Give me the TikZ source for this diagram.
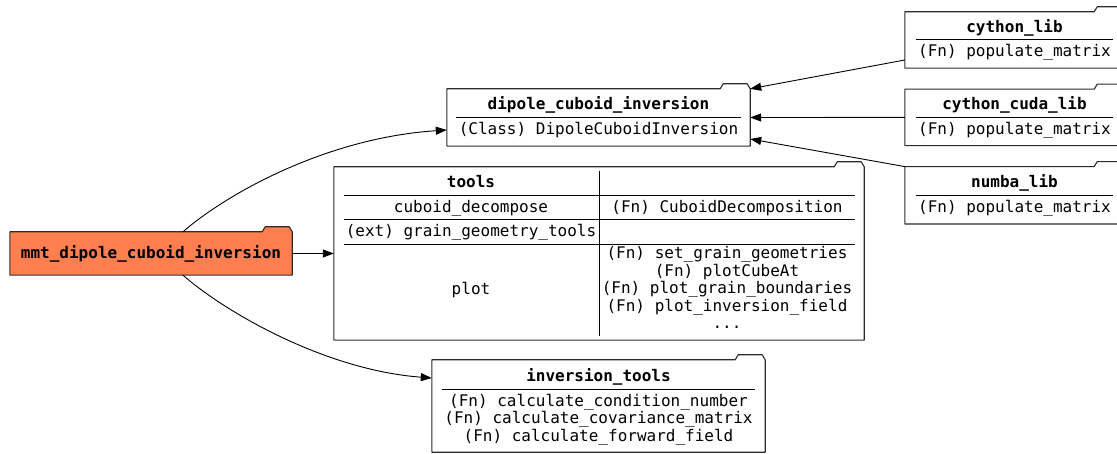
\documentclass[tikz,border=0pt]{standalone}
\usepackage{fontspec}
\setmonofont{DejaVu Sans Mono}
\usepackage{array}
\usetikzlibrary{arrows.meta, positioning}

\definecolor{coral}{HTML}{FF7F50}
\definecolor{linegray}{HTML}{2B2B2B}

\renewcommand{\arraystretch}{1.36}
\setlength{\tabcolsep}{2.5pt}
\setlength{\arrayrulewidth}{1pt}

% several lines in one cell
\newcommand{\lines}[2][t]{{\renewcommand{\arraystretch}{1}\begin{tabular}[#1]{@{}c@{}}#2\end{tabular}}}

% folder outline with the tab on the top right
\newcommand{\folder}[2]{%
  \fill[#2] ([xshift=-30pt]#1.north east) -- ++(3,-5) -- ++(24,0) -- (#1.north east) -- cycle;
  \draw[linegray, line width=1.1pt, line join=round] (#1.south west) -- (#1.south east) -- (#1.north east)
    -- ++(-3,-5) -- ++(-24,0) -- ++(-3,5) -- (#1.north west) -- cycle;
}

\begin{document}
\begin{tikzpicture}[x=1pt, y=-1pt, node distance=21pt, >={Triangle[length=11pt,width=8pt]},
    pkg/.style={rectangle, inner sep=0pt, fill=white, font=\ttfamily\fontsize{16}{17.3}\selectfont},
    edge/.style={->, line width=0.9pt, black}]
        \useasboundingbox (0,0) rectangle (1117,454);

        % Draw the blocks
        \node (mmt)    [pkg, fill=coral, minimum width=282pt, minimum height=43pt] at (151,253.5) {\textbf{mmt\_dipole\_cuboid\_inversion}};
        \node (dipole) [pkg, minimum width=303pt, minimum height=57pt] at (598.5,117.5)
            {\begin{tabular}{c}\textbf{dipole\_cuboid\_inversion}\\ \hline (Class) DipoleCuboidInversion\end{tabular}};
        \node (tools)  [pkg, minimum width=530pt, minimum height=173pt] at (599,253.5)
            {\begin{tabular}{wc{250pt}|wc{250pt}}
                \textbf{tools} & \\ \hline
                cuboid\_decompose & (Fn) CuboidDecomposition \\ \hline
                (ext) grain\_geometry\_tools & \\ \hline
                plot & \lines[c]{\rule{0pt}{14pt}(Fn) set\_grain\_geometries\\ (Fn) plotCubeAt\\ (Fn) plot\_grain\_boundaries\\
                       (Fn) plot\_inversion\_field\\ ...\rule[-7pt]{0pt}{0pt}}
             \end{tabular}};
        \node (inv)    [pkg, minimum width=333pt, minimum height=92pt] at (598.5,406)
            {\begin{tabular}{c}\textbf{inversion\_tools}\\ \hline
                \lines{(Fn) calculate\_condition\_number\\ (Fn) calculate\_covariance\_matrix\\ (Fn) calculate\_forward\_field}\end{tabular}};
        \node (cython) [pkg, minimum width=219pt, minimum height=56pt] at (1014.5,40)
            {\begin{tabular}{c}\textbf{cython\_lib}\\ \hline (Fn) populate\_matrix\end{tabular}};
        \node (cuda)   [pkg, minimum width=219pt, minimum height=56pt, below=of cython]
            {\begin{tabular}{c}\textbf{cython\_cuda\_lib}\\ \hline (Fn) populate\_matrix\end{tabular}};
        \node (numba)  [pkg, minimum width=219pt, minimum height=57pt, below=of cuda]
            {\begin{tabular}{c}\textbf{numba\_lib}\\ \hline (Fn) populate\_matrix\end{tabular}};

        % Folder frames
        \folder{mmt}{coral}
        \foreach \n in {dipole, tools, inv, cython, cuda, numba} {\folder{\n}{white}}

        % Draw the connecting lines
        \draw [edge] (mmt.east) -- (tools.west);
        \draw [edge] ([xshift=32pt]mmt.north) .. controls (225,195) and (325,138) .. ([yshift=-12.5pt]dipole.west);
        \draw [edge] ([xshift=32pt]mmt.south) .. controls (225,312) and (325,370) .. ([yshift=28pt]inv.west);
        \draw [edge] ([yshift=-20pt]cython.west) -- (dipole.north east);
        \draw [edge] (cuda.west) -- (dipole.east);
        \draw [edge] (numba.north west) -- ([yshift=-21.5pt]dipole.east);
    \end{tikzpicture}
\end{document}
